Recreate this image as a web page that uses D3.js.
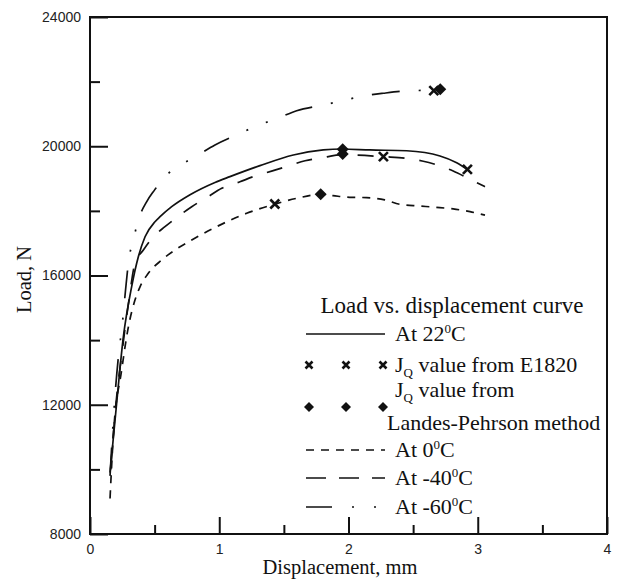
<!DOCTYPE html>
<html>
<head>
<meta charset="utf-8">
<script src="https://cdn.jsdelivr.net/npm/d3@7"></script>
<style>
  body { margin: 0; background: #fff; }
  .tick text { font-family: Arial, "Liberation Sans", sans-serif; font-size: 14px; fill: #222; }
  .serif { font-family: "Times New Roman", "Liberation Serif", serif; fill: #111; }
</style>
</head>
<body>
<div id="chart"></div>
<script>
// curves: [displacement mm, load N]
var curve22 = [[0.155, 9900], [0.206, 12040], [0.258, 14100], [0.322, 15650], [0.374, 16580], [0.426, 17200],
    [0.503, 17665], [0.542, 17820], [0.632, 18130], [0.774, 18500], [0.967, 18880], [1.083, 19060],
    [1.315, 19400], [1.573, 19730], [1.805, 19885], [1.947, 19915], [2.166, 19885], [2.45, 19860],
    [2.708, 19700], [2.837, 19490], [2.93, 19250]];
var curve0 = [[0.155, 9100], [0.18, 11010], [0.245, 13075], [0.297, 14410], [0.348, 15240], [0.387, 15650],
    [0.451, 16070], [0.555, 16480], [0.658, 16790], [0.787, 17100], [0.954, 17460], [1.212, 17925],
    [1.43, 18210], [1.6, 18390], [1.785, 18510], [1.88, 18470], [2.01, 18420], [2.14, 18410],
    [2.28, 18340], [2.40, 18200], [2.55, 18150], [2.68, 18110], [2.81, 18060], [2.94, 17975], [3.056, 17870]];
var curveM40 = [[0.16, 10000], [0.2, 12000], [0.25, 13700], [0.30, 15200], [0.348, 16380], [0.413, 16790],
    [0.49, 17200], [0.58, 17510], [0.696, 17870], [0.787, 18130], [0.915, 18440], [1.019, 18700],
    [1.16, 18900], [1.264, 19060], [1.405, 19230], [1.52, 19370], [1.664, 19550], [1.78, 19630],
    [1.955, 19740], [2.04, 19730], [2.27, 19677], [2.45, 19627], [2.57, 19543], [2.71, 19390],
    [2.81, 19234], [2.93, 19000], [3.056, 18750]];
var curveM60 = [[0.155, 9800], [0.19, 12100], [0.22, 13500], [0.25, 14500], [0.275, 15550], [0.30, 16480],
    [0.335, 17100], [0.374, 17720], [0.438, 18280], [0.50, 18650], [0.567, 19010], [0.683, 19370],
    [0.825, 19700], [0.967, 20040], [1.161, 20400], [1.29, 20630], [1.452, 20865], [1.599, 21100],
    [1.805, 21276], [1.955, 21410], [2.115, 21555], [2.27, 21640], [2.49, 21720], [2.67, 21730], [2.81, 21720]];

// J_Q points
var e1820Points = [[1.43, 18213], [2.27, 19677], [2.92, 19285], [2.66, 21719]];
var landesPoints = [[1.785, 18513], [1.955, 19905], [1.955, 19760], [2.71, 21762]];

var xTicks = [0, 1, 2, 3, 4];
var xMinor = [0.5, 1.5, 2.5, 3.5];
var yTicks = [8000, 12000, 16000, 20000, 24000];
var yMinor = [10000, 14000, 18000, 22000];

var margin = { top: 17, right: 13, bottom: 48, left: 90 };
var width = 620 - margin.left - margin.right;
var height = 582 - margin.top - margin.bottom;

var svg = d3.select("#chart").append("svg")
    .attr("width", 620)
    .attr("height", 582)
    .append("g")
    .attr("transform", "translate(" + margin.left + "," + margin.top + ")");

var x = d3.scaleLinear().domain([0, 4]).range([0, width]);
var y = d3.scaleLinear().domain([8000, 24000]).range([height, 0]);

// axes, ticks pointing inward
svg.append("g")
    .attr("transform", "translate(0," + height + ")")
    .call(d3.axisBottom(x).tickValues(xTicks).tickFormat(d3.format("d"))
        .tickSizeInner(-17).tickSizeOuter(0).tickPadding(10));
svg.append("g")
    .attr("transform", "translate(0," + height + ")")
    .call(d3.axisBottom(x).tickValues(xMinor).tickFormat("").tickSizeInner(-9).tickSizeOuter(0));
svg.append("g")
    .call(d3.axisLeft(y).tickValues(yTicks).tickFormat(d3.format("d"))
        .tickSizeInner(-18).tickSizeOuter(0).tickPadding(9));
svg.append("g")
    .call(d3.axisLeft(y).tickValues(yMinor).tickFormat("").tickSizeInner(-10).tickSizeOuter(0));

svg.selectAll(".domain").remove();
svg.selectAll(".tick line").attr("stroke", "#111").attr("stroke-width", 2);

svg.append("rect")
    .attr("width", width)
    .attr("height", height)
    .attr("fill", "none")
    .attr("stroke", "#111")
    .attr("stroke-width", 2);

// axis titles
svg.append("text")
    .attr("class", "serif")
    .attr("x", 250)
    .attr("y", height + 40)
    .attr("text-anchor", "middle")
    .style("font-size", "20.5px")
    .text("Displacement, mm");

svg.append("text")
    .attr("class", "serif")
    .attr("transform", "translate(" + (-59) + "," + (height / 2 + 4) + ") rotate(-90)")
    .attr("text-anchor", "middle")
    .style("font-size", "20.5px")
    .text("Load, N");

// curves
var line = d3.line()
    .x(function(d) { return x(d[0]); })
    .y(function(d) { return y(d[1]); })
    .curve(d3.curveMonotoneX);

var series = [
    { data: curve22, dash: null },
    { data: curve0, dash: "8,7" },
    { data: curveM40, dash: "16,15" },
    { data: curveM60, dash: "28,19,2,19,2,19" }
];

svg.selectAll(".curve")
    .data(series)
    .enter().append("path")
    .attr("class", "curve")
    .attr("d", function(d) { return line(d.data); })
    .attr("fill", "none")
    .attr("stroke", "#111")
    .attr("stroke-width", 1.7)
    .attr("stroke-dasharray", function(d) { return d.dash; });

// markers
function drawCross(g, cx, cy, s) {
    g.append("path")
        .attr("d", "M" + (cx - s) + "," + (cy - s) + "L" + (cx + s) + "," + (cy + s) +
            "M" + (cx - s) + "," + (cy + s) + "L" + (cx + s) + "," + (cy - s))
        .attr("stroke", "#111")
        .attr("stroke-width", 2.6)
        .attr("fill", "none");
}
function drawDiamond(g, cx, cy, s) {
    g.append("path")
        .attr("d", "M" + cx + "," + (cy - s) + "L" + (cx + s) + "," + cy + "L" + cx + "," + (cy + s) +
            "L" + (cx - s) + "," + cy + "Z")
        .attr("fill", "#111");
}

var marks = svg.append("g");
e1820Points.forEach(function(p) { drawCross(marks, x(p[0]), y(p[1]), 4.5); });
landesPoints.forEach(function(p) { drawDiamond(marks, x(p[0]), y(p[1]), 6); });

// legend
var legend = svg.append("g").attr("transform", "translate(" + (-margin.left) + "," + (-margin.top) + ")");
var lx0 = 306, lx1 = 385, tx = 395;

legend.append("text")
    .attr("class", "serif")
    .attr("x", 452)
    .attr("y", 313)
    .attr("text-anchor", "middle")
    .style("font-size", "23px")
    .text("Load vs. displacement curve");

function legendText(yPos, parts, xPos) {
    var t = legend.append("text")
        .attr("class", "serif")
        .attr("x", xPos || tx)
        .attr("y", yPos)
        .style("font-size", "22px");
    var shift = 0;
    parts.forEach(function(p) {
        var target = p.sup ? -8 : (p.sub ? 5 : 0);
        t.append("tspan")
            .attr("dy", target - shift)
            .style("font-size", (p.sup || p.sub) ? "13px" : null)
            .text(p.sup || p.sub || p.t);
        shift = target;
    });
}

function legendLine(yPos, dash) {
    legend.append("line")
        .attr("x1", lx0).attr("x2", lx1)
        .attr("y1", yPos).attr("y2", yPos)
        .attr("stroke", "#111")
        .attr("stroke-width", 1.7)
        .attr("stroke-dasharray", dash);
}

legendLine(334, null);
legendText(341, [{ t: "At 22" }, { sup: "0" }, { t: "C" }]);

[309, 346, 383].forEach(function(cx) { drawCross(legend, cx, 365, 3.5); });
legendText(372, [{ t: "J" }, { sub: "Q" }, { t: " value from E1820" }]);

[309, 346, 383].forEach(function(cx) { drawDiamond(legend, cx, 407, 5); });
legendText(397, [{ t: "J" }, { sub: "Q" }, { t: " value from" }]);
legendText(430, [{ t: "Landes-Pehrson method" }], 387);

legendLine(450, "8,7");
legendText(457, [{ t: "At 0" }, { sup: "0" }, { t: "C" }]);

legendLine(478, "20,13");
legendText(485, [{ t: "At -40" }, { sup: "0" }, { t: "C" }]);

legendLine(507, "26,20,2,20,2,20");
legendText(514, [{ t: "At -60" }, { sup: "0" }, { t: "C" }]);
</script>
</body>
</html>
